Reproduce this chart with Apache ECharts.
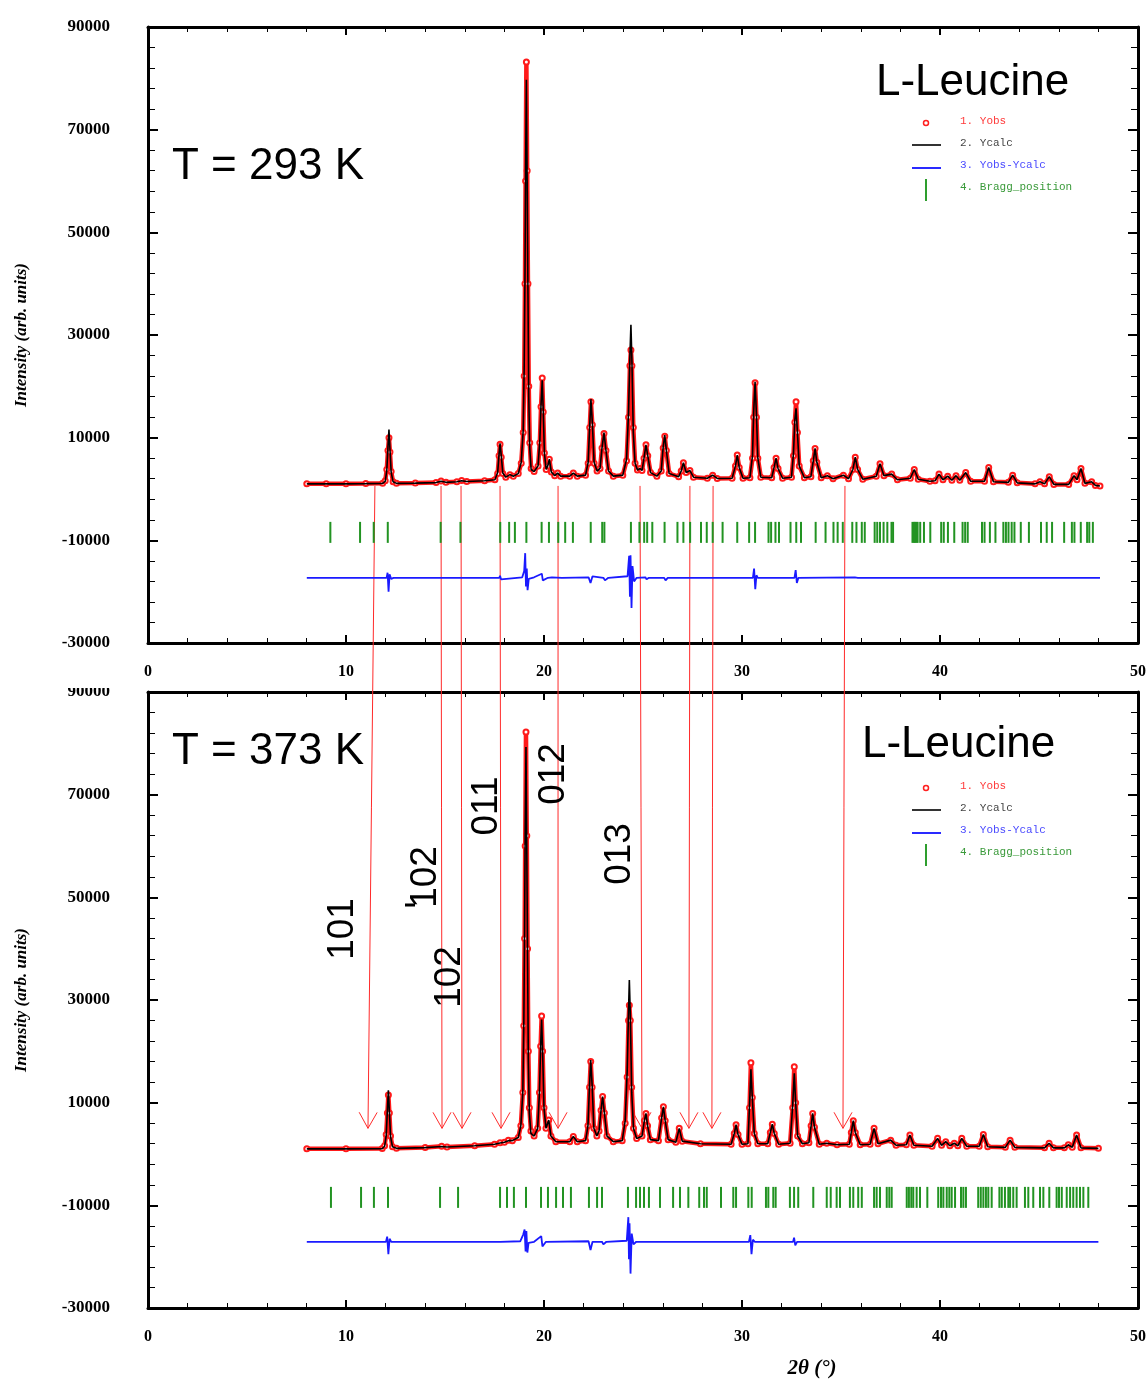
<!DOCTYPE html>
<html>
<head>
<meta charset="utf-8">
<title>L-Leucine XRD</title>
<script src="https://cdn.jsdelivr.net/npm/echarts@6/dist/echarts.min.js"></script>
<style>
html, body { margin: 0; padding: 0; background: #fff; }
#main { width: 1146px; height: 1380px; }
</style>
</head>
<body>
<div id="main"></div>
<script>
// [2theta, Yobs, Ycalc]  T = 293 K
var topProfile = [
  [8.02,1000,1000],[9.0,1000,1000],[10.0,1000,1000],[11.0,1050,1050],[11.85,1100,1100],
  [11.98,1600,1500],[12.06,3800,3600],[12.12,7500,8200],[12.17,10000,11600],[12.22,7200,7800],
  [12.28,3400,3300],[12.38,1400,1400],[12.55,1100,1100],[13.5,1150,1150],[14.55,1250,1250],
  [14.80,1550,1500],[15.05,1300,1300],[15.6,1400,1400],[15.84,1650,1600],[16.1,1450,1450],
  [17.0,1600,1600],[17.52,1800,1800],[17.66,3000,3200],[17.73,6500,6800],[17.78,8700,8900],
  [17.84,6200,6500],[17.92,3000,3100],[18.07,2300,2300],[18.28,2800,2800],[18.45,2500,2500],
  [18.7,3000,3000],[18.85,5000,5200],[18.95,11000,11500],[19.0,22000,24000],[19.04,40000,42000],
  [19.07,60000,62000],[19.11,83200,79700],[19.15,62000,60000],[19.19,40000,38000],[19.23,20000,18000],
  [19.28,9000,8000],[19.35,4000,3800],[19.5,3400,3400],[19.7,4500,4500],[19.79,9000,9500],
  [19.85,16000,16500],[19.91,21600,21200],[19.96,15000,15500],[20.02,7000,7000],[20.11,3800,3800],
  [20.19,4500,4500],[20.27,5800,5800],[20.37,3300,3300],[20.54,2600,2600],[20.69,3100,3100],
  [20.84,2500,2500],[21.3,2500,2500],[21.48,3100,3100],[21.68,2500,2500],[22.1,2700,2700],
  [22.23,5000,5200],[22.31,12000,12500],[22.37,17000,17500],[22.44,12500,13000],[22.53,5000,5200],
  [22.68,3500,3500],[22.83,4000,4000],[22.93,8000,8000],[23.03,10800,11000],[23.13,7500,7500],
  [23.26,3500,3500],[23.5,2500,2500],[23.98,2700,2700],[24.17,5500,5800],[24.27,14000,15000],
  [24.34,24000,26000],[24.39,27100,32000],[24.44,24000,25000],[24.51,12000,11000],[24.6,5000,5000],
  [24.72,3700,3700],[24.85,4000,4000],[24.95,3600,3600],[25.05,6000,6000],[25.15,8600,8600],
  [25.24,6500,6500],[25.38,3200,3200],[25.7,2500,2500],[25.92,3500,3500],[26.02,8000,8200],
  [26.10,10300,10500],[26.18,7500,7500],[26.32,3000,3000],[26.8,2400,2400],[26.93,3500,3500],
  [27.04,5100,5100],[27.18,3200,3200],[27.37,3600,3600],[27.55,2300,2300],[28.25,2100,2100],
  [28.52,2700,2700],[28.75,2050,2050],[29.5,2100,2100],[29.67,4500,4500],[29.76,6600,6600],
  [29.86,4200,4200],[30.05,2100,2100],[30.4,2200,2200],[30.53,6000,6500],[30.59,14000,15000],
  [30.66,20700,20900],[30.73,14000,14500],[30.8,6000,6000],[30.95,2300,2300],[31.5,2200,2200],
  [31.62,4200,4200],[31.72,6000,6000],[31.82,4000,4000],[32.05,2100,2100],[32.5,2300,2300],
  [32.6,6500,7000],[32.67,13000,13500],[32.73,17000,15700],[32.8,11000,11000],[32.89,4500,4500],
  [33.15,2200,2200],[33.48,2400,2400],[33.6,5500,5500],[33.69,7900,7900],[33.78,5200,5200],
  [34.0,2200,2200],[34.31,2600,2600],[34.6,2000,2000],[35.12,2700,2700],[35.38,2000,2000],
  [35.6,3800,3800],[35.72,6200,6200],[35.84,3800,3800],[36.1,1900,1900],[36.78,2500,2500],
  [36.97,4900,4900],[37.17,2600,2600],[37.56,2900,2900],[37.85,1800,1800],[38.5,2100,2100],
  [38.70,3800,3800],[38.9,1900,1900],[39.49,1500,1500],[39.75,1600,1600],[39.95,2900,2900],
  [40.15,1800,1800],[40.39,2500,2500],[40.6,1700,1700],[40.81,2600,2600],[41.0,1700,1700],
  [41.30,3200,3200],[41.55,1500,1500],[42.25,1500,1500],[42.46,4200,4200],[42.7,1400,1400],
  [43.45,1300,1300],[43.67,2700,2700],[43.9,1200,1200],[44.8,1000,1000],[45.05,1400,1400],
  [45.28,1000,1000],[45.52,2400,2400],[45.75,900,900],[46.5,900,900],[46.77,2600,2600],
  [46.92,1800,1800],[47.12,4000,4000],[47.32,1100,1100],[47.66,1400,1400],[47.85,700,700],
  [48.08,600,600]
];

// [2theta, Yobs, Ycalc]  T = 373 K
var bottomProfile = [
  [8.02,1000,1000],[10.0,1000,1000],[11.83,1050,1050],[11.95,1600,1500],[12.03,3800,3600],
  [12.09,8000,8500],[12.14,11500,12400],[12.19,8000,8300],[12.25,3500,3400],[12.35,1400,1400],
  [12.55,1100,1100],[14.0,1250,1250],[14.83,1500,1450],[15.1,1350,1350],[16.5,1600,1600],
  [17.5,1900,1900],[17.78,2200,2150],[18.0,2300,2300],[18.20,2700,2600],[18.4,2600,2600],
  [18.7,3200,3200],[18.83,5500,5500],[18.93,12000,12000],[18.98,25000,25000],[19.02,42000,44000],
  [19.05,60000,63000],[19.09,82200,79300],[19.13,62000,60000],[19.17,40000,38000],[19.21,20000,18000],
  [19.26,9000,8000],[19.34,4500,4000],[19.5,3500,3500],[19.68,5000,5000],[19.77,12000,12000],
  [19.83,21000,21000],[19.88,26900,26200],[19.93,20000,20000],[20.0,9000,9000],[20.1,5000,5000],
  [20.24,6600,6600],[20.35,3500,3500],[20.6,2400,2400],[21.3,2400,2400],[21.48,3400,3400],
  [21.68,2400,2400],[22.1,2600,2600],[22.22,5500,5500],[22.3,13000,13500],[22.36,18000,18300],
  [22.43,13000,13500],[22.52,5000,5000],[22.67,3500,3500],[22.78,4500,4500],[22.88,8500,8500],
  [22.96,11200,11200],[23.05,8000,8000],[23.18,3500,3500],[23.5,2400,2400],[23.95,2600,2600],
  [24.1,6000,6500],[24.2,15000,16000],[24.27,26000,28000],[24.31,29000,33900],[24.36,26000,27000],
  [24.43,13000,12000],[24.52,5000,5000],[24.68,3000,3000],[24.95,3500,3500],[25.07,6500,6500],
  [25.15,7900,7900],[25.23,5500,5500],[25.37,2800,2800],[25.78,2600,2600],[25.94,7000,7000],
  [26.03,9200,9200],[26.12,6500,6500],[26.27,2800,2800],[26.66,2300,2300],[26.83,5000,5000],
  [26.98,2500,2500],[27.9,2000,2000],[29.45,1900,1900],[29.61,4000,4000],[29.70,5700,5700],
  [29.8,3800,3800],[30.0,1900,1900],[30.3,2000,2000],[30.38,9000,9500],[30.45,17800,16500],
  [30.52,11000,11000],[30.62,4000,4000],[30.8,2000,2000],[31.3,2000,2000],[31.43,4200,4200],
  [31.53,5800,5800],[31.63,4000,4000],[31.85,1900,1900],[32.43,2100,2100],[32.56,9000,9500],
  [32.64,17000,15700],[32.71,10000,10000],[32.81,3500,3500],[33.05,2000,2000],[33.38,2200,2200],
  [33.49,5500,5500],[33.57,7900,7900],[33.66,5200,5200],[33.9,1900,1900],[34.28,2100,2100],
  [34.8,1800,1800],[35.42,1900,1900],[35.52,4200,4200],[35.62,6500,6500],[35.72,4200,4200],
  [35.97,1800,1800],[36.47,1900,1900],[36.67,5000,5000],[36.87,2000,2000],[37.51,2700,2700],
  [37.78,1700,1700],[38.3,1800,1800],[38.48,3700,3700],[38.68,1700,1700],[39.6,1500,1500],
  [39.88,3050,3050],[40.08,1700,1700],[40.29,2400,2400],[40.5,1600,1600],[40.72,2100,2100],
  [40.9,1600,1600],[41.10,3050,3050],[41.35,1500,1500],[41.98,1500,1500],[42.19,3800,3800],
  [42.41,1400,1400],[43.3,1300,1300],[43.54,2700,2700],[43.78,1300,1300],[45.28,1200,1200],
  [45.51,2100,2100],[45.73,1200,1200],[46.28,1200,1200],[46.48,1800,1800],[46.68,1300,1300],
  [46.90,3700,3700],[47.12,1200,1200],[48.0,1100,1100]
];

// Yobs-Ycalc (offset)
var topDiff = [
  [8.02,-17300],[12.05,-17300],[12.1,-16300],[12.15,-20000],[12.2,-16600],[12.28,-17500],[12.4,-17300],
  [14.75,-17300],[14.8,-17600],[14.9,-17300],[17.74,-17300],[17.78,-16900],[17.83,-17600],[17.9,-17300],
  [18.9,-17200],[19.0,-16000],
  [19.05,-12500],[19.09,-19000],[19.13,-15500],[19.17,-19700],[19.23,-17500],[19.5,-17200],[19.89,-16500],
  [19.94,-17800],[20.2,-17300],[20.4,-17200],[20.9,-17300],[22.25,-17200],[22.35,-18300],[22.45,-17000],
  [22.55,-17300],[23.0,-17300],[23.08,-17800],[23.25,-17300],[24.22,-17000],[24.3,-13000],[24.34,-21000],
  [24.37,-12900],[24.42,-23200],[24.47,-15000],[24.55,-18000],[24.68,-17300],[25.12,-17200],[25.18,-17600],
  [25.3,-17300],[26.07,-17300],[26.14,-17800],[26.25,-17300],[30.55,-17300],[30.61,-15500],[30.67,-19500],
  [30.73,-16800],[30.8,-17300],[32.65,-17300],[32.71,-15800],[32.77,-18300],[32.85,-17300],[35.7,-17200],
  [35.76,-17500],[35.85,-17300],[48.08,-17300]
];
var bottomDiff = [
  [8.02,-17100],[12.02,-17100],[12.08,-16100],[12.14,-19500],[12.2,-16500],[12.28,-17100],[17.8,-17100],
  [18.8,-17000],[18.95,-15700],[19.02,-14700],[19.07,-19000],[19.11,-15000],[19.16,-19200],[19.22,-17300],
  [19.5,-17100],[19.86,-16000],[19.92,-18000],[20.1,-17100],[22.25,-17000],[22.35,-18700],[22.45,-17100],
  [22.93,-17100],[23.0,-17600],[23.15,-17100],[24.18,-16900],[24.26,-12300],[24.29,-20500],[24.32,-13500],
  [24.37,-23300],[24.43,-15500],[24.52,-17600],[24.66,-17100],[30.35,-17100],[30.42,-15800],[30.48,-19500],
  [30.55,-16700],[30.65,-17100],[32.58,-17100],[32.63,-16300],[32.69,-17800],[32.78,-17100],[48.0,-17100]
];

// Bragg positions (2theta)
var topBragg = [9.21,10.71,11.40,12.11,14.78,15.78,17.79,18.24,18.53,19.11,19.88,20.25,20.72,21.07,21.46,
  22.36,22.94,23.05,24.39,24.82,25.06,25.21,25.47,26.09,26.74,27.04,27.38,27.93,28.22,28.52,29.02,29.76,
  30.36,30.66,31.34,31.47,31.69,31.87,32.45,32.74,32.98,33.72,34.22,34.62,34.83,35.09,35.57,35.78,36.05,
  36.20,36.70,36.83,36.97,37.15,37.34,37.55,37.63,38.61,38.68,38.74,38.81,38.87,39.00,39.19,39.51,40.06,
  40.19,40.40,40.72,41.14,41.27,41.40,42.12,42.25,42.52,42.80,43.20,43.33,43.46,43.62,43.76,44.08,44.49,
  45.10,45.39,45.66,46.27,46.66,46.79,47.11,47.43,47.54,47.72];
var bottomBragg = [9.24,10.76,11.41,12.12,14.75,15.66,17.78,18.13,18.48,19.09,19.85,20.20,20.61,20.96,21.36,
  22.27,22.68,22.93,24.24,24.65,24.85,25.05,25.30,25.86,26.52,26.87,27.29,27.84,28.08,28.22,28.94,29.56,
  29.70,30.32,30.49,31.21,31.33,31.58,31.70,32.42,32.63,32.84,33.60,34.28,34.48,34.78,34.95,35.45,35.62,
  35.87,36.05,36.67,36.80,36.97,37.31,37.44,37.56,38.32,38.43,38.55,38.65,38.82,38.99,39.36,39.91,40.05,
  40.17,40.34,40.47,40.59,40.76,41.06,41.18,41.31,41.93,42.06,42.19,42.32,42.44,42.61,43.00,43.12,43.28,
  43.45,43.54,43.70,43.87,44.29,44.46,44.71,45.05,45.22,45.52,45.89,46.01,46.15,46.40,46.57,46.73,46.90,
  47.07,47.24,47.49];
var braggY = -8450;

// arrows: from top peak (2theta) to bottom peak (2theta)
var arrowFrom = [11.46, 14.80, 15.81, 17.78, 20.71, 24.85, 27.37, 28.54, 35.20];
var arrowTo   = [11.11, 14.85, 15.86, 17.83, 20.71, 24.95, 27.32, 28.48, 35.10];
var arrowStartY = 600, arrowTipY = 5000;

var yTicks = { min: -30000, max: 90000, interval: 20000 };
var xTicks = { min: 0, max: 50, interval: 10 };

var serif = '"Liberation Serif", "Times New Roman", serif';
var sans = '"Liberation Sans", Arial, sans-serif';
var mono = '"Liberation Mono", "Courier New", monospace';

function xAxisFor(grid, position) {
  return {
    type: 'value', gridIndex: grid, position: position,
    min: xTicks.min, max: xTicks.max, interval: xTicks.interval,
    axisLine: { show: true, onZero: false, lineStyle: { color: '#000', width: 3 } },
    axisTick: { show: true, inside: true, length: 8, lineStyle: { color: '#000', width: 2 } },
    minorTick: { show: true, splitNumber: 5, length: 5, lineStyle: { color: '#000', width: 1 } },
    splitLine: { show: false },
    axisLabel: { show: position === 'bottom', margin: 21, color: '#000', fontFamily: serif, fontWeight: 'bold', fontSize: 16,
      formatter: function (v) { return String(v); } }
  };
}
function yAxisFor(grid, position) {
  return {
    type: 'value', gridIndex: grid, position: position,
    min: yTicks.min, max: yTicks.max, interval: yTicks.interval,
    axisLine: { show: true, onZero: false, lineStyle: { color: '#000', width: 3 } },
    axisTick: { show: true, inside: true, length: 10, lineStyle: { color: '#000', width: 2 } },
    minorTick: { show: true, splitNumber: 5, length: 7, lineStyle: { color: '#000', width: 1 } },
    splitLine: { show: false },
    axisLabel: { show: position === 'left', margin: 38, color: '#000', fontFamily: serif, fontWeight: 'bold', fontSize: 17,
      formatter: function (v) { return String(v); } },
    name: position === 'left' ? 'Intensity (arb. units)' : '',
    nameLocation: 'middle', nameGap: 118,
    nameTextStyle: { color: '#000', fontFamily: serif, fontStyle: 'italic', fontWeight: 'bold', fontSize: 17 }
  };
}

function panelSeries(n, profile, diff, bragg) {
  return [
    {
      name: 'Yobs', type: 'line', xAxisIndex: 2 * n, yAxisIndex: 2 * n,
      data: profile.map(function (r) { return [r[0], r[1]]; }),
      symbol: 'emptyCircle', symbolSize: 5, showSymbol: true,
      lineStyle: { color: '#ff1a1a', width: 4.5 },
      itemStyle: { color: '#ff1a1a', borderColor: '#ff1a1a', borderWidth: 1.2 },
      z: 3, silent: true
    },
    {
      name: 'Ycalc', type: 'line', xAxisIndex: 2 * n, yAxisIndex: 2 * n,
      data: profile.map(function (r) { return [r[0], r[2]]; }),
      symbol: 'none', lineStyle: { color: '#000', width: 1.6 }, z: 4, silent: true
    },
    {
      name: 'Yobs-Ycalc', type: 'line', xAxisIndex: 2 * n, yAxisIndex: 2 * n,
      data: diff, symbol: 'none', lineStyle: { color: '#1a1aff', width: 1.8 }, z: 4, silent: true
    },
    {
      name: 'Bragg_position', type: 'scatter', xAxisIndex: 2 * n, yAxisIndex: 2 * n,
      data: bragg.map(function (v) { return [v, braggY]; }),
      symbol: 'rect', symbolSize: [2, 21],
      itemStyle: { color: '#229322', opacity: 1 }, z: 4, silent: true
    }
  ];
}

var option = {
  backgroundColor: '#fff',
  animation: false,
  grid: [
    { left: 148, top: 27, width: 990, height: 616, outerBoundsMode: 'none', containLabel: false },
    { left: 148, top: 692, width: 990, height: 616, outerBoundsMode: 'none', containLabel: false }
  ],
  xAxis: [xAxisFor(0, 'bottom'), xAxisFor(0, 'top'), xAxisFor(1, 'bottom'), xAxisFor(1, 'top')],
  yAxis: [yAxisFor(0, 'left'), yAxisFor(0, 'right'), yAxisFor(1, 'left'), yAxisFor(1, 'right')],
  series: panelSeries(0, topProfile, topDiff, topBragg).concat(panelSeries(1, bottomProfile, bottomDiff, bottomBragg))
};

var chart = echarts.init(document.getElementById('main'));
chart.setOption(option);

function legendAt(y0) {
  return [
    { type: 'circle', shape: { cx: 926, cy: y0 + 2, r: 2.5 }, style: { fill: '#fff', stroke: '#ff2020', lineWidth: 1.5 } },
    { type: 'text', x: 960, y: y0, style: { text: '1. Yobs', fill: '#ff3a3a', font: '11px ' + mono, verticalAlign: 'middle' } },
    { type: 'line', shape: { x1: 912, y1: y0 + 24, x2: 941, y2: y0 + 24 }, style: { stroke: '#333', lineWidth: 2 } },
    { type: 'text', x: 960, y: y0 + 22, style: { text: '2. Ycalc', fill: '#444', font: '11px ' + mono, verticalAlign: 'middle' } },
    { type: 'line', shape: { x1: 912, y1: y0 + 47, x2: 941, y2: y0 + 47 }, style: { stroke: '#2a2aff', lineWidth: 2 } },
    { type: 'text', x: 960, y: y0 + 44, style: { text: '3. Yobs-Ycalc', fill: '#4a4aff', font: '11px ' + mono, verticalAlign: 'middle' } },
    { type: 'line', shape: { x1: 926, y1: y0 + 58, x2: 926, y2: y0 + 80 }, style: { stroke: '#2e9e2e', lineWidth: 2 } },
    { type: 'text', x: 960, y: y0 + 66, style: { text: '4. Bragg_position', fill: '#3a9a3a', font: '11px ' + mono, verticalAlign: 'middle' } }
  ];
}

function hkl(text, x, y) {
  return { type: 'text', x: x, y: y, rotation: Math.PI / 2, z: 10,
    style: { text: text, fill: '#000', font: '37px ' + sans, align: 'center', verticalAlign: 'middle' } };
}

var graphics = [];
// arrows between panels
for (var i = 0; i < arrowFrom.length; i++) {
  var p0 = chart.convertToPixel({ xAxisIndex: 0, yAxisIndex: 0 }, [arrowFrom[i], arrowStartY]);
  var p1 = chart.convertToPixel({ xAxisIndex: 2, yAxisIndex: 2 }, [arrowTo[i], arrowTipY]);
  var dx = p1[0] - p0[0], dy = p1[1] - p0[1];
  var len = Math.sqrt(dx * dx + dy * dy);
  var ux = dx / len, uy = dy / len;
  graphics.push({ type: 'line', z: 1, shape: { x1: p0[0], y1: p0[1], x2: p1[0], y2: p1[1] },
    style: { stroke: '#ff2a2a', lineWidth: 1 } });
  graphics.push({ type: 'polyline', z: 1,
    shape: { points: [[p1[0] - 16 * ux - 9 * uy, p1[1] - 16 * uy + 9 * ux], [p1[0], p1[1]], [p1[0] - 16 * ux + 9 * uy, p1[1] - 16 * uy - 9 * ux]] },
    style: { stroke: '#ff2a2a', lineWidth: 1, fill: null } });
}

graphics = graphics.concat(legendAt(121), legendAt(786));

graphics.push(
  { type: 'text', x: 172, y: 167, style: { text: 'T = 293 K', fill: '#000', font: '44px ' + sans, verticalAlign: 'middle' } },
  { type: 'text', x: 876, y: 83, style: { text: 'L-Leucine', fill: '#000', font: '44px ' + sans, verticalAlign: 'middle' } },
  { type: 'text', x: 172, y: 752, style: { text: 'T = 373 K', fill: '#000', font: '44px ' + sans, verticalAlign: 'middle' } },
  { type: 'text', x: 862, y: 745, style: { text: 'L-Leucine', fill: '#000', font: '44px ' + sans, verticalAlign: 'middle' } },
  hkl('101', 343, 929),
  hkl('102', 426, 877),
  { type: 'line', z: 10, shape: { x1: 405, y1: 905, x2: 415, y2: 905 }, style: { stroke: '#000', lineWidth: 3 } },
  hkl('102', 450, 977),
  hkl('011', 487, 806),
  hkl('012', 554, 774),
  hkl('013', 620, 854),
  { type: 'text', x: 812, y: 1369, style: { text: '2θ (°)', fill: '#000', font: 'italic bold 21px ' + serif, align: 'center', verticalAlign: 'middle' } },
  // the top of the lower panel's first tick label is hidden in the original figure
  { type: 'rect', z: 100, shape: { x: 40, y: 676, width: 95, height: 12 }, style: { fill: '#fff' } }
);

chart.setOption({ graphic: graphics });
</script>
</body>
</html>
